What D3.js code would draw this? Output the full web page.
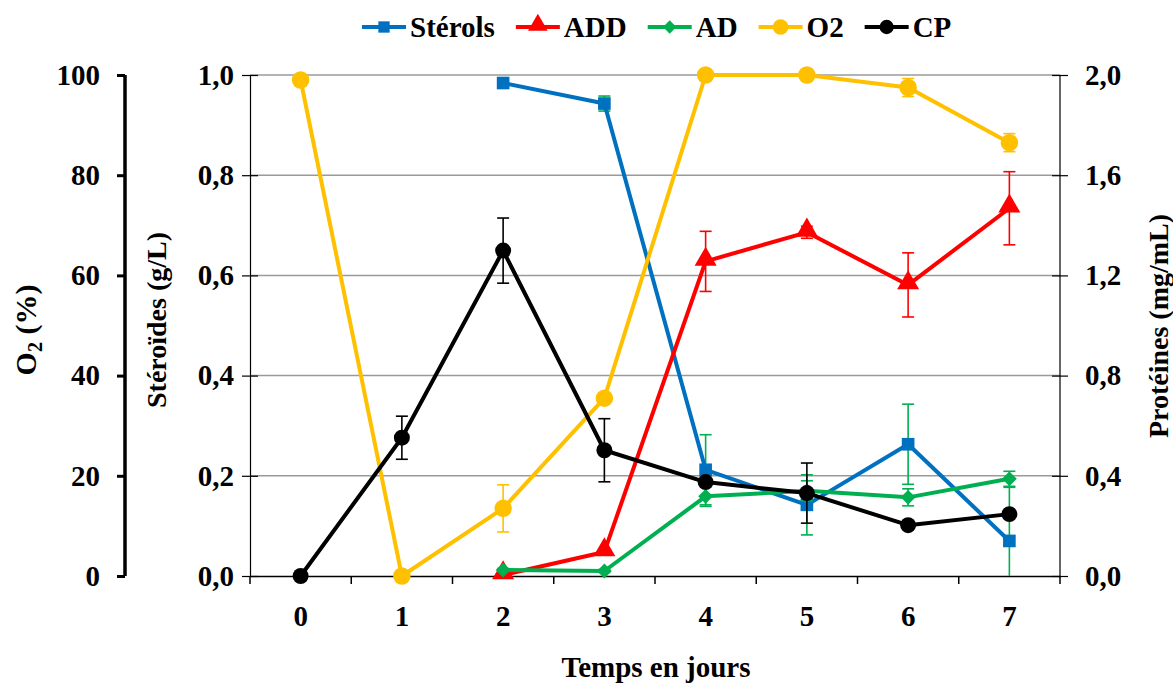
<!DOCTYPE html>
<html><head><meta charset="utf-8">
<script src="https://cdn.jsdelivr.net/npm/d3@7"></script>
<style>
html,body{margin:0;padding:0;background:#fff;}
text{font-family:"Liberation Serif","Times New Roman",serif;font-weight:bold;fill:#000;}
</style></head>
<body><svg id="chart" width="1173" height="684"></svg>
<script>
// ---- data ----
const days = [0,1,2,3,4,5,6,7];
const sterols    = [null,null,0.984,0.943,0.212,0.142,0.263,0.070];
const sterolsErr = [null,null,0.004,0.015,0.070,0.060,0.080,0.107];
const add        = [null,null,0.002,0.048,0.628,0.686,0.581,0.734];
const addErr     = [null,null,0.000,0.003,0.060,0.012,0.064,0.073];
const ad         = [null,null,0.012,0.010,0.159,0.170,0.157,0.194];
const adErr      = [null,null,0.003,0.003,0.020,0.020,0.017,0.015];
const o2         = [99,0,13.5,35.5,100,100,97.5,86.5];
const o2Err      = [0,0,4.7,0,0,0,1.8,1.8];
const cp         = [0,0.552,1.299,0.502,0.375,0.331,0.203,0.247];
const cpErr      = [0,0.086,0.130,0.126,0.010,0.120,0.010,0.010];
const o2Ticks    = [0,20,40,60,80,100];
const sterTicks  = [0,0.2,0.4,0.6,0.8,1.0];
const protTicks  = [0,0.4,0.8,1.2,1.6,2.0];
const legendNames = ["Stérols","ADD","AD","O2","CP"];

const svg = d3.select("#chart");
const L = 250, R = 1060, T = 75, B = 576;
const FS = "29px";
const x = d3.scaleBand().domain(days).range([L,R]).padding(0);
const cx = d => x(d) + x.bandwidth()/2;
const yS = d3.scaleLinear().domain([0,1]).range([B,T]);
const yO = d3.scaleLinear().domain([0,100]).range([B,T]);
const yP = d3.scaleLinear().domain([0,2]).range([B,T]);
const fmt = d => d3.format(".1f")(d).replace(".", ",");

// gridlines
svg.append("g").selectAll("line").data(sterTicks.filter(d=>d>0)).join("line")
  .attr("x1",L).attr("x2",R).attr("y1",d=>yS(d)).attr("y2",d=>yS(d))
  .attr("stroke","#9a9a9a").attr("stroke-width",1.5);

// x axis
const gx = svg.append("g").attr("transform",`translate(0,${B})`)
  .call(d3.axisBottom(x).tickSize(0).tickPadding(29));
gx.select(".domain").attr("stroke","#000").attr("stroke-width",1.5);
gx.selectAll("text").style("font-size",FS).attr("dy","0.71em");
svg.append("g").selectAll("line").data(d3.range(days.length+1)).join("line")
  .attr("x1",i=>L + i*x.bandwidth()).attr("x2",i=>L + i*x.bandwidth())
  .attr("y1",B).attr("y2",B+8).attr("stroke","#000").attr("stroke-width",1.5);

// steroid axis (left inner)
const gs = svg.append("g").attr("transform",`translate(${L},0)`)
  .call(d3.axisLeft(yS).tickValues(sterTicks).tickFormat(fmt).tickSize(8).tickPadding(7));
gs.select(".domain").attr("stroke","#000").attr("stroke-width",1.2);
gs.selectAll(".tick line").attr("x2",8).attr("x1",-8).attr("stroke","#000").attr("stroke-width",1.2);
gs.selectAll("text").style("font-size",FS).attr("x",-16);

// O2 axis (far left)
const go = svg.append("g").attr("transform",`translate(125,0)`)
  .call(d3.axisLeft(yO).tickValues(o2Ticks).tickSize(8).tickPadding(17));
go.select(".domain").attr("stroke","#000").attr("stroke-width",3.5).attr("d",`M0,${T}V${B}`);
go.selectAll(".tick line").attr("stroke","#000").attr("stroke-width",3);
go.selectAll("text").style("font-size",FS);

// protein axis (right)
const gp = svg.append("g").attr("transform",`translate(${R},0)`)
  .call(d3.axisRight(yP).tickValues(protTicks).tickFormat(fmt).tickSize(8).tickPadding(17));
gp.select(".domain").attr("stroke","#000").attr("stroke-width",1.2).attr("d",`M0,${T}V${B}`);
gp.selectAll(".tick line").attr("x1",-8).attr("x2",8).attr("stroke","#000").attr("stroke-width",1.2);
gp.selectAll("text").style("font-size",FS);

// axis titles
const o2t = svg.append("text").attr("transform","translate(36,330) rotate(-90)")
  .attr("text-anchor","middle").style("font-size","30px");
o2t.append("tspan").text("O");
o2t.append("tspan").text("2").style("font-size","20px").attr("dy","6");
o2t.append("tspan").text(" (%)").attr("dy","-6");
svg.append("text").attr("transform","translate(166,320) rotate(-90)")
  .attr("text-anchor","middle").style("font-size","28px").text("Stéroïdes (g/L)");
svg.append("text").attr("transform","translate(1168,326) rotate(-90)")
  .attr("text-anchor","middle").style("font-size","28px").text("Protéines (mg/mL)");
svg.append("text").attr("x",656).attr("y",677).attr("text-anchor","middle")
  .style("font-size","29px").text("Temps en jours");

// series
const series = [
  {name:"Stérols", vals:sterols, err:sterolsErr, y:yS, color:"#0070C0", errColor:"#00B050", marker:"square", size:160, rot:0},
  {name:"ADD", vals:add, err:addErr, y:yS, color:"#FF0000", errColor:"#FF0000", marker:"triangle", size:210, rot:0},
  {name:"AD", vals:ad, err:adErr, y:yS, color:"#00B050", errColor:"#00B050", marker:"square", size:110, rot:45},
  {name:"O2", vals:o2, err:o2Err, y:yO, color:"#FFC000", errColor:"#FFC000", marker:"circle", size:240, rot:0},
  {name:"CP", vals:cp, err:cpErr, y:yP, color:"#000000", errColor:"#000000", marker:"circle", size:200, rot:0}
];
const symType = {square:d3.symbolSquare, triangle:d3.symbolTriangle, circle:d3.symbolCircle};

series.forEach(s => {
  const pts = days.map((d,i)=>({d, v:s.vals[i], e:s.err[i]})).filter(p=>p.v!==null);
  const g = svg.append("g");
  // error bars
  const eb = g.append("g").selectAll("g").data(pts.filter(p=>p.e>0)).join("g");
  const lo = p => s.y(Math.max(0, p.v - p.e)), hi = p => s.y(p.v + p.e);
  eb.append("line").attr("x1",p=>cx(p.d)).attr("x2",p=>cx(p.d)).attr("y1",lo).attr("y2",hi)
    .attr("stroke",s.errColor).attr("stroke-width",1.6);
  eb.append("line").attr("x1",p=>cx(p.d)-6).attr("x2",p=>cx(p.d)+6).attr("y1",hi).attr("y2",hi)
    .attr("stroke",s.errColor).attr("stroke-width",1.6);
  eb.filter(p=>p.v - p.e >= 0).append("line").attr("x1",p=>cx(p.d)-6).attr("x2",p=>cx(p.d)+6).attr("y1",lo).attr("y2",lo)
    .attr("stroke",s.errColor).attr("stroke-width",1.6);
  // line
  g.append("path").datum(pts)
    .attr("d", d3.line().x(p=>cx(p.d)).y(p=>s.y(p.v)))
    .attr("fill","none").attr("stroke",s.color).attr("stroke-width",4).attr("stroke-linejoin","round");
  // markers
  g.append("g").selectAll("path").data(pts).join("path")
    .attr("transform",p=>`translate(${cx(p.d)},${s.y(p.v) - (s.marker==="triangle"?2:0)}) rotate(${s.rot})`)
    .attr("d", d3.symbol().type(symType[s.marker]).size(s.size))
    .attr("fill",s.color);
});

// legend
const lg = svg.append("g");
const tmp = svg.append("text").style("font-size",FS);
let lx = 362; const ly = 27;
series.forEach((s,i) => {
  tmp.text(legendNames[i]);
  const w = tmp.node().getComputedTextLength();
  lg.append("line").attr("x1",lx).attr("x2",lx+44).attr("y1",ly).attr("y2",ly)
    .attr("stroke",s.color).attr("stroke-width",4);
  lg.append("path").attr("transform",`translate(${lx+22},${ly - (s.marker==="triangle"?2:0)}) rotate(${s.rot})`)
    .attr("d", d3.symbol().type(symType[s.marker]).size(s.size*0.8)).attr("fill",s.color);
  lg.append("text").attr("x",lx+48).attr("y",ly).attr("dy","0.35em").style("font-size",FS).text(legendNames[i]);
  lx += 48 + w + 21;
});
tmp.remove();
</script></body></html>
